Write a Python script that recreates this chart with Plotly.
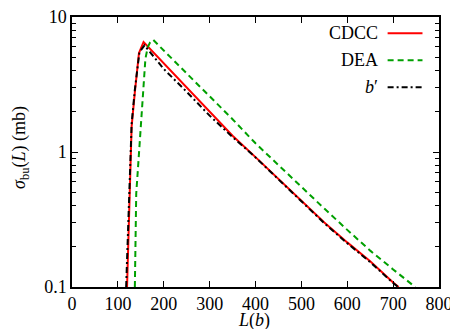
import plotly.graph_objects as go

# ---- data ----
L_cdcc = [120, 130, 137, 146, 156, 200, 250, 300, 350, 400, 450, 500, 550, 600, 650, 700, 712]
s_cdcc = [0.1, 1.55, 2.77, 5.41, 6.52, 4.52, 2.99, 1.97, 1.32, 0.916, 0.631, 0.435, 0.300, 0.214, 0.155, 0.108, 0.1]

L_dea = [137, 140, 145, 150, 155, 160, 165, 170, 177, 190, 200, 250, 300, 350, 400, 450, 500, 550, 600, 650, 700, 748]
s_dea = [0.1, 0.49, 0.87, 1.54, 3.0, 4.9, 5.96, 6.46, 6.78, 6.17, 5.65, 3.82, 2.59, 1.75, 1.16, 0.798, 0.552, 0.381, 0.265, 0.186, 0.135, 0.1]

L_bp = [118, 130, 137, 147, 158, 200, 250, 300, 350, 400, 450, 500, 550, 600, 650, 700, 711]
s_bp = [0.1, 1.62, 2.9, 5.5, 6.17, 4.12, 2.79, 1.86, 1.29, 0.912, 0.627, 0.432, 0.297, 0.211, 0.153, 0.107, 0.1]

x_ticks = [0, 100, 200, 300, 400, 500, 600, 700, 800]
y_ticks = [0.1, 1, 10]
y_ticktext = ["0.1", "1", "10"]
y_minor = [0.2, 0.3, 0.4, 0.5, 0.6, 0.7, 0.8, 0.9, 2, 3, 4, 5, 6, 7, 8, 9]

names = ["CDCC", "DEA", "<i>b</i>′"]
colors = ["#ff0000", "#00a000", "#000000"]
dashes = ["solid", "6px,4px", "6px,3px,2px,3px"]

FONT = "Liberation Serif"

fig = go.Figure()
for L, s, nm, c, d in zip([L_cdcc, L_dea, L_bp], [s_cdcc, s_dea, s_bp], names, colors, dashes):
    fig.add_trace(go.Scatter(x=L, y=s, mode="lines", name=nm,
                             line=dict(color=c, width=2, dash=d), showlegend=False))

# legend drawn as text (left) + line sample (right), as in the reference
ly = [0.94, 0.84, 0.74]
for yy, nm, c, d in zip(ly, names, colors, dashes):
    fig.add_annotation(x=0.838, y=yy, xref="paper", yref="paper", text=nm,
                       showarrow=False, xanchor="right", yanchor="middle",
                       font=dict(family=FONT, size=18, color="black"))
    fig.add_shape(type="line", xref="paper", yref="paper", x0=0.86, x1=0.955, y0=yy, y1=yy,
                  line=dict(color=c, width=2, dash=d))

# axis titles
fig.add_annotation(x=0.5, y=0, xref="paper", yref="paper", text="<i>L</i>(<i>b</i>)",
                   showarrow=False, xanchor="center", yanchor="middle", yshift=-33, xshift=-2,
                   font=dict(family=FONT, size=18, color="black"))
fig.add_annotation(x=0, y=0.5, xref="paper", yref="paper",
                   text="<i>σ</i><sub>bu</sub>(<i>L</i>) (mb)", textangle=-90,
                   showarrow=False, xanchor="center", yanchor="middle", xshift=-52, yshift=4,
                   font=dict(family=FONT, size=18, color="black"))

axis_common = dict(showline=True, linecolor="black", linewidth=1.5, mirror="allticks",
                   ticks="inside", tickcolor="black", ticklen=6, tickwidth=1,
                   showgrid=False, zeroline=False, automargin=False,
                   ticklabeloverflow="allow",
                   tickfont=dict(family=FONT, size=18, color="black"))

fig.update_xaxes(range=[0, 800], tickvals=x_ticks, **axis_common)
fig.update_yaxes(type="log", range=[-1, 1], tickvals=y_ticks, ticktext=y_ticktext,
                 minor=dict(ticks="inside", ticklen=4, tickcolor="black", tickwidth=1,
                            tickvals=y_minor, showgrid=False),
                 **axis_common)

# page body has an 8px margin, so the figure is shifted by 8px; compensate
fig.update_layout(width=450, height=321, margin=dict(l=64, r=19, t=9, b=42),
                  plot_bgcolor="white", paper_bgcolor="white",
                  font=dict(family=FONT, size=18, color="black"))

fig.write_html("out.html")
